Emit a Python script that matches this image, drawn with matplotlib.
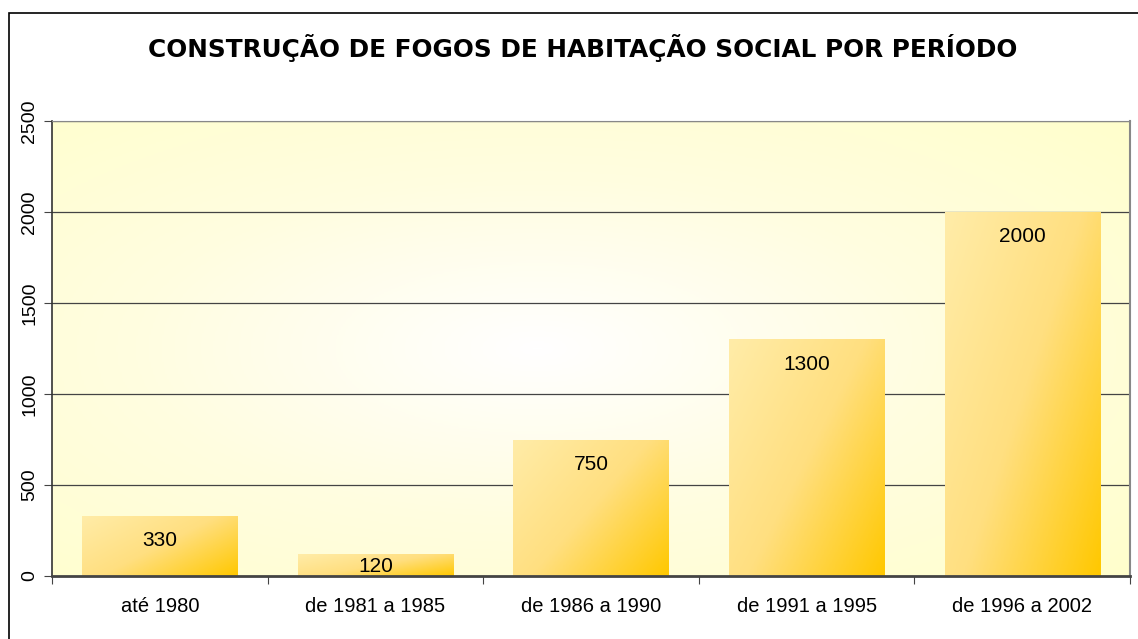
import numpy as np
import matplotlib.pyplot as plt
from matplotlib.colors import LinearSegmentedColormap
from matplotlib.patches import Rectangle

plt.rcParams['font.family'] = ['Liberation Sans', 'DejaVu Sans']

periods = ['até 1980', 'de 1981 a 1985', 'de 1986 a 1990', 'de 1991 a 1995', 'de 1996 a 2002']
fogos = [330, 120, 750, 1300, 2000]
yticks = [0, 500, 1000, 1500, 2000, 2500]

fig = plt.figure(figsize=(11.38, 6.39), dpi=100)

# outer chart border (Excel style)
fig.patches.append(Rectangle((9 / 1138, -0.1), 1.2, (639 - 13) / 639 + 0.1, transform=fig.transFigure,
                             fill=False, edgecolor='black', linewidth=1.2))

ax = fig.add_axes([52 / 1138, (639 - 576) / 639, (1130 - 52) / 1138, (576 - 121) / 639])
ax.set_xlim(0, 5)
ax.set_ylim(0, 2500)

# radial background gradient
yy, xx = np.mgrid[0:1:300j, 0:1:600j]
rr = np.sqrt(((xx - 0.45) / 0.75) ** 2 + ((yy - 0.5) / 0.75) ** 2)
rr = np.clip(rr, 0, 1)
bg_cmap = LinearSegmentedColormap.from_list('bg', ['#ffffff', '#fffde0', '#ffffcc'])
ax.imshow(rr, cmap=bg_cmap, extent=[0, 5, 0, 2500], aspect='auto', zorder=0, origin='lower')

for y in yticks[1:]:
    ax.axhline(y, color='#444444', linewidth=0.9, zorder=1)

# bars with diagonal gradient, light top-left -> gold bottom-right
bar_cmap = LinearSegmentedColormap.from_list('bar', ['#ffeca8', '#ffdf80', '#ffc800'])
gv, gu = np.mgrid[0:1:100j, 0:1:100j]
grad = (1.3 * gu + gv) / 2.3
x = np.arange(len(periods)) + 0.5
bars = ax.bar(x, fogos, width=0.72, color='none', edgecolor='none', zorder=2)
px_per_unit = 455 / 2500
for b, v in zip(bars, fogos):
    im = ax.imshow(grad, cmap=bar_cmap, extent=[b.get_x(), b.get_x() + b.get_width(), 0, v],
                   aspect='auto', zorder=2, origin='upper')
    im.set_clip_path(b)
    off = min(25, v * px_per_unit - 9)
    ax.annotate(str(v), (b.get_x() + b.get_width() / 2, v), xytext=(0, -off),
                textcoords='offset pixels', ha='center', va='center', fontsize=15, zorder=3)

ax.set_xlim(0, 5)
ax.set_ylim(0, 2500)

ax.set_xticks(np.arange(0, 6))
ax.set_xticklabels([])
ax.set_xticks(x, minor=True)
ax.set_xticklabels(periods, minor=True, fontsize=14.5)
ax.tick_params(axis='x', which='minor', length=0, pad=15)
ax.tick_params(axis='x', which='major', length=6, color='#444444', direction='out')

ax.set_yticks(yticks)
ax.set_yticklabels([str(t) for t in yticks], rotation=90, va='center', fontsize=14)
ax.tick_params(axis='y', length=6, color='#444444', pad=4)

ax.spines['left'].set_color('#333333')
ax.spines['left'].set_linewidth(1.2)
ax.spines['bottom'].set_color('#444444')
ax.spines['bottom'].set_linewidth(2)
ax.spines['right'].set_color('#888888')
ax.spines['right'].set_linewidth(1.5)
ax.spines['top'].set_color('#888888')
ax.spines['top'].set_linewidth(0.8)

fig.text(583 / 1138, 1 - 48 / 639, 'CONSTRUÇÃO DE FOGOS DE HABITAÇÃO SOCIAL POR PERÍODO',
         ha='center', va='center', fontsize=17.8, fontweight='bold', family=['DejaVu Sans'])

fig.savefig('out.png', dpi=100)
